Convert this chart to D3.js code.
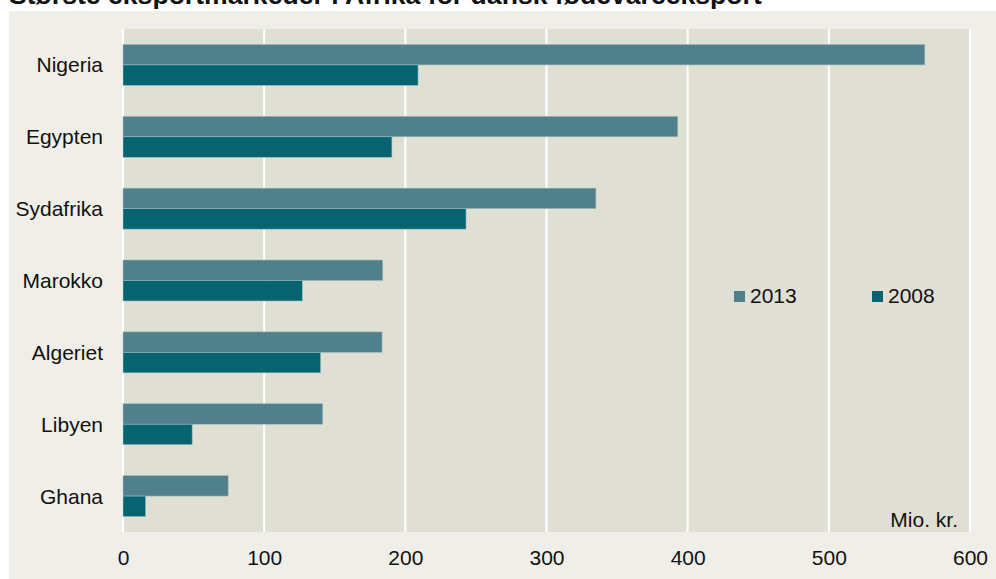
<!DOCTYPE html>
<html><head><meta charset="utf-8">
<script src="https://cdn.jsdelivr.net/npm/d3@7/dist/d3.min.js"></script>
<style>body{margin:0;background:#fff;}svg{display:block;font-family:"Liberation Sans",Arial,sans-serif;}</style>
</head><body><svg id="c" width="996" height="579"></svg>
<script>
const title = "Største eksportmarkeder i Afrika for dansk fødevareeksport";
const categories = ["Nigeria","Egypten","Sydafrika","Marokko","Algeriet","Libyen","Ghana"];
const seriesNames = ["2013","2008"];
const values2013 = [568, 393, 335, 184, 183.5, 141.5, 74.5];
const values2008 = [209, 190.5, 243, 127, 140, 49, 16];
const ticks = [0,100,200,300,400,500,600];
const unitLabel = "Mio. kr.";
const colors = {"2013":"#4f808c","2008":"#05646f"};
const FF = "'Liberation Sans', Arial, sans-serif";

const svg = d3.select("#c");
svg.append("rect").attr("x",9).attr("y",11).attr("width",987).attr("height",568).attr("fill","#efeee8");
const L=123,R=970,T=29,B=532;
svg.append("rect").attr("x",L).attr("y",T).attr("width",R-L).attr("height",B-T).attr("fill","#e0dfd4");
svg.append("text").attr("x",9).attr("y",4).attr("font-size",26.6).attr("font-weight","bold").attr("fill","#111").text(title);

const x = d3.scaleLinear().domain([0,600]).range([L,R]);
const y = d3.scaleBand().domain(categories).range([T,B]).paddingInner(0.43).paddingOuter(0.215);
const ys = d3.scaleBand().domain(seriesNames).range([0,y.bandwidth()]);

svg.append("g").selectAll("line").data(ticks).join("line")
  .attr("x1",d=>x(d)).attr("x2",d=>x(d)).attr("y1",T).attr("y2",B)
  .attr("stroke","#fff").attr("stroke-width",2);

const rows = categories.map((c,i)=>({c, v:{"2013":values2013[i],"2008":values2008[i]}}));
const g = svg.append("g").selectAll("g").data(rows).join("g").attr("transform",d=>`translate(0,${y(d.c)})`);
g.selectAll("rect").data(d=>seriesNames.map(s=>({s,v:d.v[s]}))).join("rect")
  .attr("x",x(0)).attr("y",d=>ys(d.s)).attr("width",d=>x(d.v)-x(0)).attr("height",ys.bandwidth())
  .attr("fill",d=>colors[d.s]).attr("stroke","#9fb9bd").attr("stroke-width",0.6);

svg.append("g").selectAll("text").data(categories).join("text")
  .attr("x",103).attr("y",d=>y(d)+y.bandwidth()/2+7.5).attr("text-anchor","end")
  .attr("font-size",21).attr("fill","#111").text(d=>d);

const ax = d3.axisBottom(x).tickValues(ticks).tickSize(0).tickPadding(0);
const axg = svg.append("g").attr("transform",`translate(0,${B})`).call(ax);
axg.select(".domain").remove();
axg.selectAll("text").attr("font-size",21).attr("fill","#111").attr("font-family",FF)
  .attr("dy",null).attr("y",33);

svg.append("text").attr("x",958).attr("y",527).attr("text-anchor","end").attr("font-size",21).attr("fill","#111").text(unitLabel);

const legX = [734, 872];
const lg = svg.append("g").selectAll("g").data(seriesNames).join("g").attr("transform",(d,i)=>`translate(${legX[i]},291)`);
lg.append("rect").attr("width",11).attr("height",11).attr("fill",d=>colors[d]);
lg.append("text").attr("x",16).attr("y",12).attr("font-size",21).attr("fill","#111").text(d=>d);
</script></body></html>
